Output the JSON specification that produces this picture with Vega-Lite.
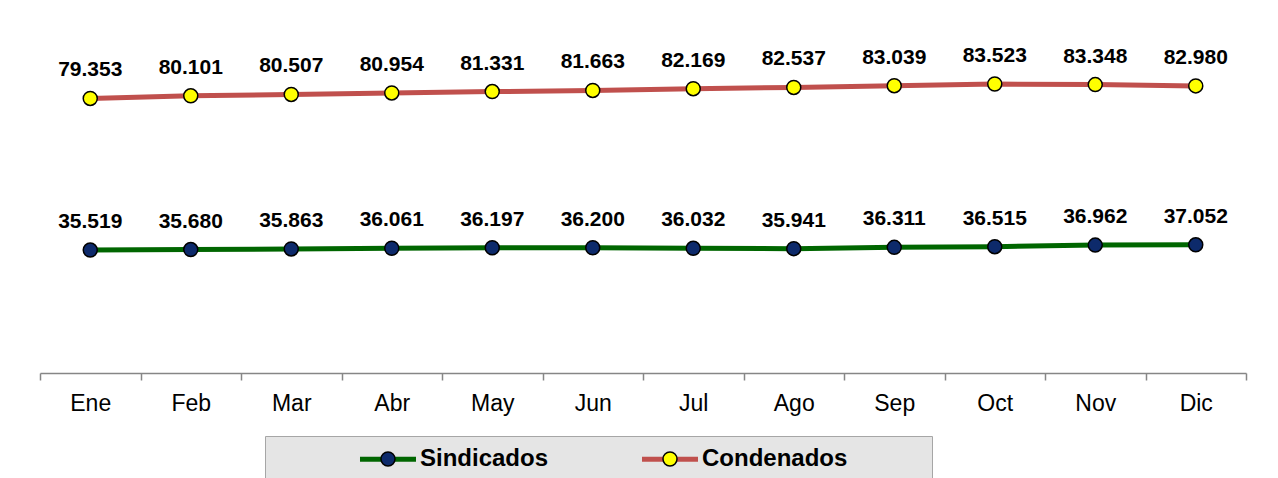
{
  "$schema": "https://vega.github.io/schema/vega-lite/v6.json",
  "width": 1206,
  "height": 346,
  "autosize": {"type": "none"},
  "padding": {"left": 40, "top": 27, "right": 32, "bottom": 105},
  "background": "white",
  "config": {
    "view": {"stroke": null},
    "locale": {"number": {"decimal": ",", "thousands": ".", "grouping": [3], "currency": ["", ""]}}
  },
  "data": {
    "values": [
      {"mes": "Ene", "serie": "Sindicados", "valor": 35519},
      {"mes": "Feb", "serie": "Sindicados", "valor": 35680},
      {"mes": "Mar", "serie": "Sindicados", "valor": 35863},
      {"mes": "Abr", "serie": "Sindicados", "valor": 36061},
      {"mes": "May", "serie": "Sindicados", "valor": 36197},
      {"mes": "Jun", "serie": "Sindicados", "valor": 36200},
      {"mes": "Jul", "serie": "Sindicados", "valor": 36032},
      {"mes": "Ago", "serie": "Sindicados", "valor": 35941},
      {"mes": "Sep", "serie": "Sindicados", "valor": 36311},
      {"mes": "Oct", "serie": "Sindicados", "valor": 36515},
      {"mes": "Nov", "serie": "Sindicados", "valor": 36962},
      {"mes": "Dic", "serie": "Sindicados", "valor": 37052},
      {"mes": "Ene", "serie": "Condenados", "valor": 79353},
      {"mes": "Feb", "serie": "Condenados", "valor": 80101},
      {"mes": "Mar", "serie": "Condenados", "valor": 80507},
      {"mes": "Abr", "serie": "Condenados", "valor": 80954},
      {"mes": "May", "serie": "Condenados", "valor": 81331},
      {"mes": "Jun", "serie": "Condenados", "valor": 81663},
      {"mes": "Jul", "serie": "Condenados", "valor": 82169},
      {"mes": "Ago", "serie": "Condenados", "valor": 82537},
      {"mes": "Sep", "serie": "Condenados", "valor": 83039},
      {"mes": "Oct", "serie": "Condenados", "valor": 83523},
      {"mes": "Nov", "serie": "Condenados", "valor": 83348},
      {"mes": "Dic", "serie": "Condenados", "valor": 82980}
    ]
  },
  "encoding": {
    "x": {
      "field": "mes",
      "type": "ordinal",
      "sort": ["Ene", "Feb", "Mar", "Abr", "May", "Jun", "Jul", "Ago", "Sep", "Oct", "Nov", "Dic"],
      "scale": {"type": "band", "paddingInner": 0, "paddingOuter": 0},
      "axis": {
        "title": null,
        "labelAngle": 0,
        "labelFont": "Liberation Sans",
        "labelFontSize": 23,
        "labelColor": "black",
        "labelPadding": 12,
        "domainColor": "#868686",
        "domainWidth": 1.5,
        "tickColor": "#868686",
        "tickWidth": 1.5,
        "tickSize": 7,
        "tickBand": "extent",
        "grid": false
      }
    },
    "y": {
      "field": "valor",
      "type": "quantitative",
      "scale": {"domain": [0, 100000]},
      "axis": null
    }
  },
  "layer": [
    {
      "mark": {"type": "line", "strokeWidth": 5},
      "encoding": {
        "stroke": {
          "field": "serie",
          "type": "nominal",
          "scale": {"domain": ["Sindicados", "Condenados"], "range": ["#006600", "#c0504d"]},
          "legend": {
            "title": null,
            "orient": "none",
            "legendX": 225,
            "legendY": 409,
            "direction": "horizontal",
            "padding": 4,
            "fillColor": "#e5e5e5",
            "strokeColor": "#a6a6a6",
            "symbolType": "M0,3M-1.697,0L1.697,0",
            "symbolSize": 1089,
            "symbolStrokeWidth": 5,
            "symbolFillColor": "transparent",
            "symbolOffset": 100,
            "labelFont": "Liberation Sans",
            "labelFontSize": 24,
            "labelFontWeight": "bold",
            "labelColor": "black",
            "labelOffset": 13,
            "labelLimit": 400,
            "columnPadding": 2,
            "encode": {
              "symbols": {"update": {"shape": {"signal": "datum.value === 'Condenados' ? 'M15.03,0M0,3M-1.697,0L1.697,0' : 'M0,3M-1.697,0L1.697,0'"}}}
            }
          }
        }
      }
    },
    {
      "mark": {"type": "point", "filled": true, "size": 196, "stroke": "black", "strokeWidth": 1.5, "opacity": 1},
      "encoding": {
        "fill": {
          "field": "serie",
          "type": "nominal",
          "sort": ["Sindicados", "Condenados"],
          "scale": {"range": ["#0d2a6b", "#ffff00"]},
          "legend": {
            "title": null,
            "orient": "none",
            "legendX": 225,
            "legendY": 409,
            "direction": "horizontal",
            "padding": 4,
            "fillColor": null,
            "strokeColor": null,
            "zindex": 1,
            "symbolType": "M0.3836,0A0.3836,0.3836,0,1,1,-0.3836,0A0.3836,0.3836,0,1,1,0.3836,0Z",
            "symbolSize": 1332.25,
            "symbolStrokeColor": "black",
            "symbolStrokeWidth": 1.5,
            "symbolOpacity": 1,
            "symbolOffset": 100,
            "labelFont": "Liberation Sans",
            "labelFontSize": 24,
            "labelFontWeight": "bold",
            "labelOpacity": 0,
            "labelOffset": 13,
            "labelLimit": 400,
            "columnPadding": 2
          }
        }
      }
    },
    {
      "mark": {"type": "text", "dy": -22, "baseline": "alphabetic", "font": "Liberation Sans", "fontSize": 21, "fontWeight": "bold", "color": "black"},
      "encoding": {
        "text": {"field": "valor", "type": "quantitative", "format": ",d"}
      }
    }
  ]
}
